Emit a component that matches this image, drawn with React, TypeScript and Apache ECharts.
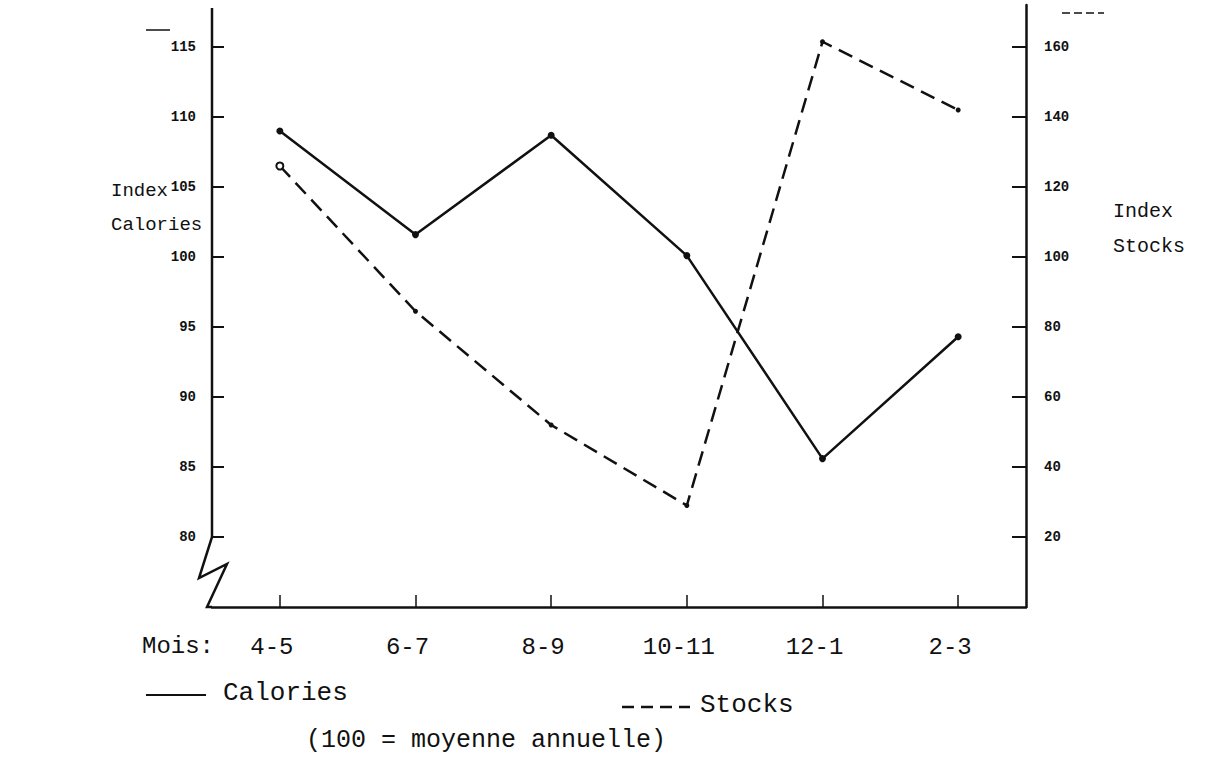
import React, { useEffect, useRef } from "react";
import * as echarts from "echarts";

const categories = ["4-5", "6-7", "8-9", "10-11", "12-1", "2-3"];
const calories = [109, 101.6, 108.7, 100.1, 85.6, 94.3];
const stocks = [126, 84.5, 52, 29, 161.5, 142];

const leftMin = 75;
const leftMax = 118;
const leftStep = 5;
const leftTickValues = [80, 85, 90, 95, 100, 105, 110, 115];
const rightMin = 0;
const rightMax = 172;
const rightStep = 20;
const rightTickValues = [20, 40, 60, 80, 100, 120, 140, 160];

const GRID_LEFT = 212;
const GRID_RIGHT = 190;
const GRID_TOP = 5;
const GRID_BOTTOM = 153;

const MONO = "'Liberation Mono', 'DejaVu Sans Mono', monospace";

export default function App() {
  const ref = useRef<HTMLDivElement>(null);

  useEffect(() => {
    if (!ref.current) return;
    const chart = echarts.init(ref.current, null, { renderer: "svg" });
    const ink = "#111";
    const option: any = {
      animation: false,
      backgroundColor: "#ffffff",
      grid: { left: GRID_LEFT, right: GRID_RIGHT, top: GRID_TOP, bottom: GRID_BOTTOM },
      xAxis: {
        type: "category",
        data: categories,
        boundaryGap: true,
        axisLine: { show: true, lineStyle: { color: ink, width: 2.5 } },
        axisTick: { show: true, inside: true, alignWithLabel: true, length: 12, lineStyle: { color: ink, width: 1.5 } },
        axisLabel: { color: ink, fontFamily: MONO, fontSize: 24, margin: 28, padding: [0, 16, 0, 0] },
        splitLine: { show: false },
      },
      yAxis: [
        {
          type: "value",
          min: leftMin,
          max: leftMax,
          interval: leftStep,
          position: "left",
          axisLine: { show: false },
          axisTick: { show: true, inside: true, length: 12, customValues: leftTickValues, lineStyle: { color: ink, width: 2 } },
          axisLabel: {
            color: ink,
            fontFamily: MONO,
            fontWeight: "bold",
            fontSize: 14,
            margin: 16,
            customValues: leftTickValues,
            formatter: (v: number) => (v <= leftMin || v >= leftMax ? "" : String(v)),
          },
          splitLine: { show: false },
        },
        {
          type: "value",
          min: rightMin,
          max: rightMax,
          interval: rightStep,
          position: "right",
          axisLine: { show: true, lineStyle: { color: ink, width: 2.5 } },
          axisTick: { show: true, inside: true, length: 14, customValues: rightTickValues, lineStyle: { color: ink, width: 2 } },
          axisLabel: {
            color: ink,
            fontFamily: MONO,
            fontWeight: "bold",
            fontSize: 14,
            margin: 18,
            customValues: rightTickValues,
            formatter: (v: number) => (v <= rightMin || v >= rightMax ? "" : String(v)),
          },
          splitLine: { show: false },
        },
      ],
      series: [
        {
          name: "Calories",
          type: "line",
          yAxisIndex: 0,
          data: calories,
          symbol: "circle",
          symbolSize: 7,
          itemStyle: { color: ink },
          lineStyle: { color: ink, width: 2.5, type: "solid" },
          z: 3,
        },
        {
          name: "Stocks",
          type: "line",
          yAxisIndex: 1,
          data: stocks.map((v, i) =>
            i === 0
              ? { value: v, symbol: "emptyCircle", symbolSize: 7, itemStyle: { color: ink, borderColor: ink, borderWidth: 2 } }
              : { value: v }
          ),
          symbol: "circle",
          symbolSize: 5,
          itemStyle: { color: ink },
          lineStyle: { color: ink, width: 2.5, type: [15, 8] },
          z: 2,
        },
      ],
    };
    chart.setOption(option);

    const y80 = chart.convertToPixel({ yAxisIndex: 0 }, 80) as number;
    const yTop = chart.convertToPixel({ yAxisIndex: 0 }, leftMax) as number;
    const yBase = chart.convertToPixel({ yAxisIndex: 0 }, leftMin) as number;
    const L = GRID_LEFT;

    const textStyle = (text: string, size: number, extra: any = {}) => ({
      text,
      fill: ink,
      font: `${size}px ${MONO}`,
      ...extra,
    });

    chart.setOption({
      graphic: [
        {
          type: "polyline",
          shape: {
            points: [
              [L, yTop + 3],
              [L, y80],
              [L - 13, y80 + 41],
              [L + 15, y80 + 27],
              [L - 5, yBase],
              [L, yBase],
            ],
          },
          style: { stroke: ink, lineWidth: 2.5, fill: null },
          z: 10,
        },
        // small axis-key marks at the top corners
        { type: "line", shape: { x1: 146, y1: 30, x2: 170, y2: 30 }, style: { stroke: ink, lineWidth: 1.5 } },
        { type: "line", shape: { x1: 1062, y1: 13, x2: 1104, y2: 13 }, style: { stroke: ink, lineWidth: 1.5, lineDash: [8, 4] } },
        // axis titles
        { type: "text", left: 111, top: 174, style: textStyle("Index\nCalories", 19, { lineHeight: 34 }) },
        { type: "text", left: 1113, top: 194, style: textStyle("Index\nStocks", 20, { lineHeight: 35 }) },
        { type: "text", left: 142, top: 634, style: textStyle("Mois:", 24) },
        // legend
        { type: "line", shape: { x1: 146, y1: 695, x2: 206, y2: 695 }, style: { stroke: ink, lineWidth: 2 } },
        { type: "text", left: 223, top: 680, style: textStyle("Calories", 26) },
        { type: "line", shape: { x1: 622, y1: 707, x2: 690, y2: 707 }, style: { stroke: ink, lineWidth: 2.5, lineDash: [12, 7] } },
        { type: "text", left: 700, top: 692, style: textStyle("Stocks", 26) },
        { type: "text", left: 306, top: 728, style: textStyle("(100 = moyenne annuelle)", 25) },
      ],
    });

    return () => chart.dispose();
  }, []);

  return (
    <div
      ref={ref}
      style={{ position: "absolute", left: 0, top: 0, width: 1216, height: 760, background: "#fff" }}
    />
  );
}
